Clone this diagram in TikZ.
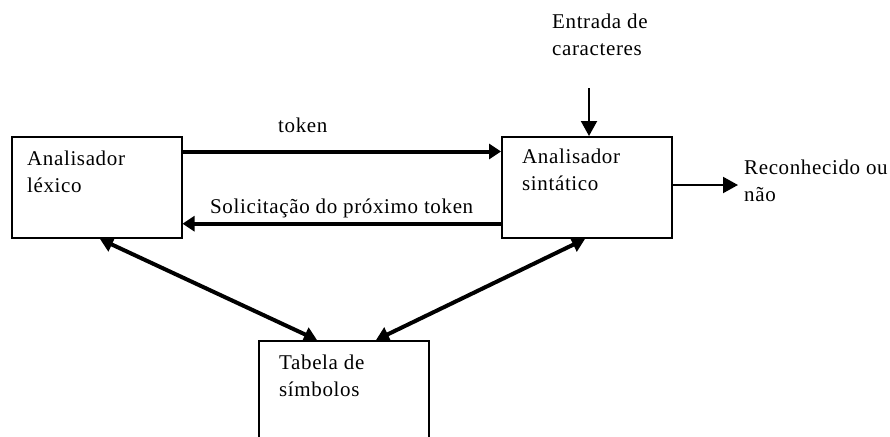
\documentclass[tikz,border=0pt]{standalone}
\usepackage{fontspec}
\setmainfont{Liberation Serif}[LetterSpace=3]
\usetikzlibrary{arrows.meta}
\begin{document}
\begin{tikzpicture}[x=1pt,y=1pt,
  box/.style={draw,line width=2pt,inner sep=0pt,minimum width=170pt,minimum height=101pt},
  lbl/.style={inner sep=0pt,anchor=base west,align=left,font=\fontsize{21}{27}\selectfont},
  thick arrow/.style={line width=4pt,-{Triangle[length=12pt,width=15pt]}},
  thick double/.style={line width=4pt,{Triangle[length=13pt,width=15pt]}-{Triangle[length=13pt,width=15pt]}},
  thin arrow/.style={line width=2pt,-{Triangle[length=15pt,width=16pt]}}]
\useasboundingbox (0,0) rectangle (890,-436);
\clip (0,0) rectangle (890,-436);
% boxes
\node[box] (lex) at (96.5,-187.5) {};
\node[box] (sin) at (587,-187.5) {};
\node[box,minimum height=120pt] (tab) at (344,-401) {};
% box texts (base anchor = baseline of last line)
\node[lbl] (lexT) at (27,-192) {Analisador\\léxico};
\node[lbl] (sinT) at (522,-190) {Analisador\\sintático};
\node[lbl] (tabT) at (279,-396) {Tabela de\\símbolos};
\node[lbl] (entT) at (552,-56) {Entrada de\\caracteres};
\node[lbl] (recT) at (744,-201) {Reconhecido ou\\não};
\node[lbl] (tokT) at (278,-132) {token};
\node[lbl] (solT) at (210,-213) {Solicitação do próximo token};
% free ends
\coordinate (ent) at (589,-88);
\coordinate (rec) at (738,-185);
% connectors
\draw[thick arrow] ([yshift=-15.5pt]lex.north east) -- ([yshift=-15.5pt]sin.north west);
\draw[thick arrow] ([yshift=15.3pt]sin.south west) -- ([yshift=15.3pt]lex.south east);
\draw[thin arrow] (ent) -- ([xshift=2pt]sin.north);
\draw[thin arrow] ([yshift=2.5pt]sin.east) -- (rec);
\draw[thick double] ([xshift=3.5pt]lex.south) -- ([xshift=59pt]tab.north west);
\draw[thick double] ([xshift=-2pt]sin.south) -- ([xshift=-54pt]tab.north east);
\end{tikzpicture}
\end{document}
